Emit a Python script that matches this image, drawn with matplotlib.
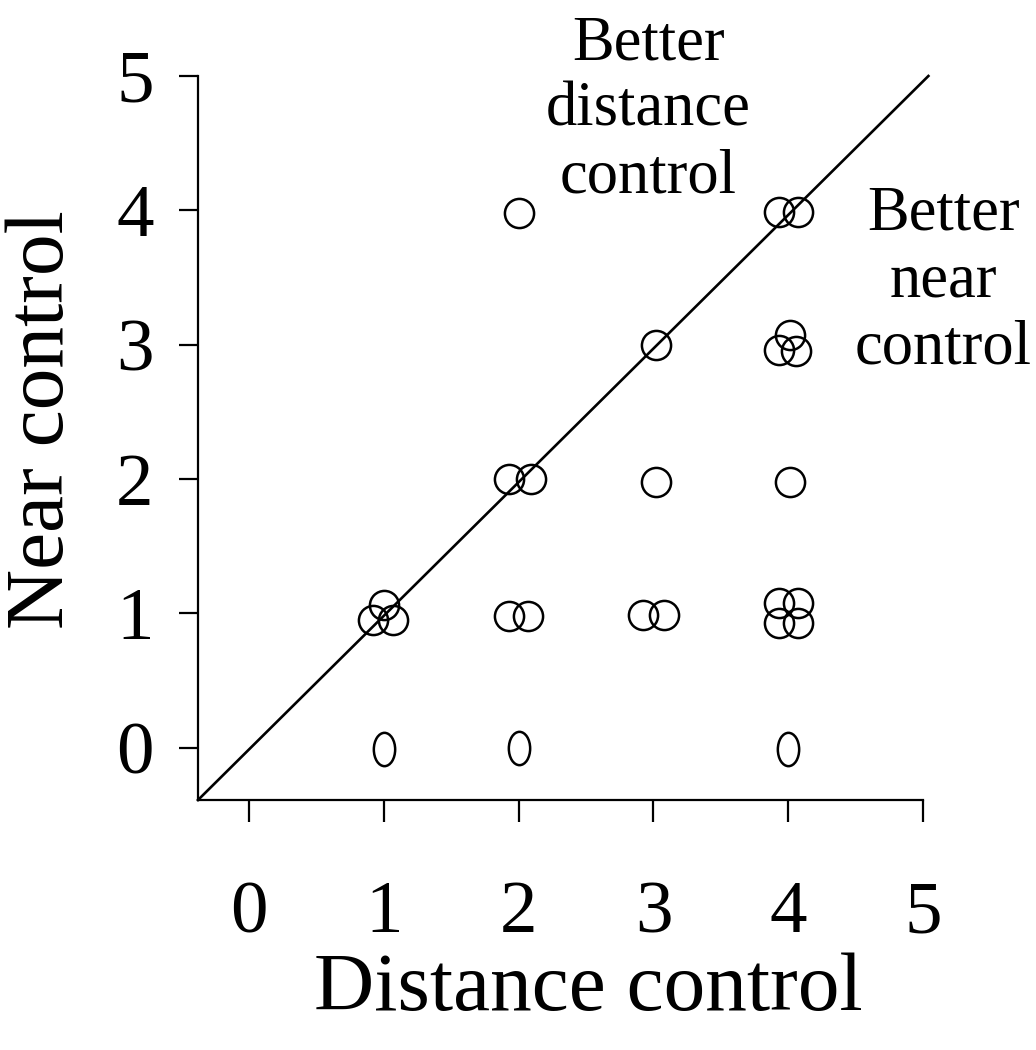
import matplotlib
matplotlib.use("Agg")
import matplotlib.pyplot as plt
import numpy as np
from matplotlib.path import Path
from matplotlib.transforms import Affine2D

# observations (jittered where several share a grid cell)
dist_ctrl = [0.92, 1.00, 1.07, 1.93, 2.07, 2.92, 3.08, 3.93, 4.07, 3.93, 4.07,
             1.93, 2.09, 3.02, 4.01, 3.02, 4.01, 3.93, 4.06, 3.93, 4.07, 2.00]
near_ctrl = [0.95, 1.06, 0.95, 0.98, 0.98, 0.99, 0.99, 1.08, 1.08, 0.93, 0.93,
             2.00, 2.00, 1.98, 1.98, 3.00, 3.07, 2.96, 2.95, 3.99, 3.99, 3.98]
# the zero row is drawn with narrower (elliptical) circles
zero_dist = [1.00, 2.00, 4.00]
zero_near = [-0.01, 0.00, -0.01]

ticks = [0, 1, 2, 3, 4, 5]
diag_x = [-0.38, 5.04]
diag_y = [-0.39, 5.00]

plt.rcParams["font.family"] = ["Liberation Serif", "DejaVu Serif"]

fig = plt.figure(figsize=(10.36, 10.5), dpi=100)
ax = fig.add_axes([198 / 1036, 1 - 800 / 1050, 725 / 1036, 724 / 1050])

ax.plot(diag_x, diag_y, color="black", lw=1.9, clip_on=False)
ax.plot(dist_ctrl, near_ctrl, linestyle="none", marker="o", ms=21,
        mfc="none", mec="black", mew=1.8, clip_on=False)

ellipse = Path.unit_circle().transformed(Affine2D().scale(0.64, 1.0))
ax.plot(zero_dist, zero_near, linestyle="none", marker=ellipse, ms=24,
        mfc="none", mec="black", mew=1.8)

ax.set_xlim(-0.38, 5.0)
ax.set_ylim(-0.39, 5.0)
ax.set_xticks(ticks)
ax.set_yticks(ticks)
ax.spines["top"].set_visible(False)
ax.spines["right"].set_visible(False)
for s in ("left", "bottom"):
    ax.spines[s].set_linewidth(1.6)
ax.tick_params(axis="x", length=16, width=1.6, pad=42, labelsize=54)
ax.tick_params(axis="y", length=14, width=1.6, pad=18, labelsize=54)

fig.text(588 / 1036, 1 - 990 / 1050, "Distance control", fontsize=60,
         ha="center", va="center")
fig.text(43 / 1036, 1 - 420 / 1050, "Near control", fontsize=60,
         ha="center", va="center", rotation=90)

ax.text(2.96, 4.74, "Better\ndistance\ncontrol", fontsize=45, ha="center",
        va="center", linespacing=1.2)
ax.text(5.15, 3.47, "Better\nnear\ncontrol", fontsize=45, ha="center",
        va="center", linespacing=1.2)

fig.savefig("out.png", dpi=100)
